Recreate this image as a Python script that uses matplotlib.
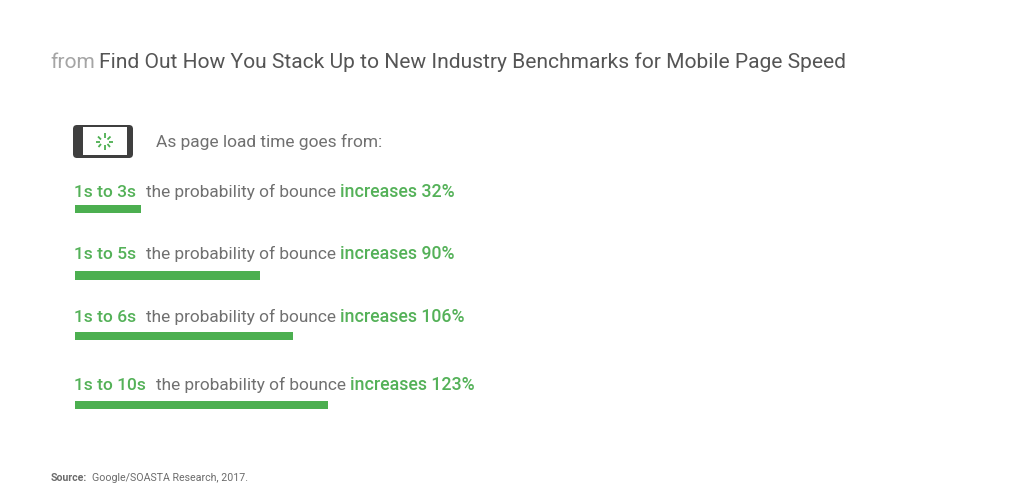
import matplotlib
matplotlib.use("Agg")
import matplotlib.pyplot as plt
from matplotlib.patches import FancyBboxPatch, Rectangle

ranges = ["1s to 3s", "1s to 5s", "1s to 6s", "1s to 10s"]
increases = [32, 90, 106, 123]
middle = "the probability of bounce"
title_prefix = "from"
title_main = "Find Out How You Stack Up to New Industry Benchmarks for Mobile Page Speed"
intro = "As page load time goes from:"

W, H = 1024, 492
GREEN = "#4caf50"
TEXT_GREEN = "#54b158"
GREY = "#707070"
plt.rcParams["font.family"] = ["Roboto", "DejaVu Sans"]

fig = plt.figure(figsize=(W / 100, H / 100), dpi=100, facecolor="white")
bg = fig.add_axes([0, 0, 1, 1])
bg.set_xlim(0, W)
bg.set_ylim(H, 0)
bg.axis("off")

# value axis: zero at x=75 px, 2.057 px per percent point
ax = fig.add_axes([0, 0, 1, 1], facecolor="none")
ax.set_xlim(-75 / 2.057, (W - 75) / 2.057)
ax.set_ylim(H, 0)
ax.axis("off")
bar_centers = [209, 275.5, 336, 405]
bar_heights = [8, 9, 8, 8]
ax.barh(bar_centers, increases, height=bar_heights, color=GREEN, linewidth=0)


def put(x, y, s, size=12.45, color=GREY, weight="normal"):
    return bg.text(x, y, s, fontsize=size, color=color, weight=weight, va="baseline", ha="left")


put(50, 68, title_prefix, size=15.1, color="#a5a5a5")
put(99, 68, title_main, size=15.08, color="#555555")
put(156, 147, intro, size=12.55)

baselines = [197, 259, 322, 390]
mid_x = [146, 146, 146, 156]
inc_x = [340, 340, 340, 350]
for r, v, yb, mx, ix in zip(ranges, increases, baselines, mid_x, inc_x):
    put(74, yb, r, size=12.5, color=TEXT_GREEN, weight="medium")
    put(mx, yb, middle)
    put(ix, yb, f"increases {v}%", size=12.75, color=TEXT_GREEN, weight="medium")

bg.text(51, 481, "Source:", fontsize=7.6, color="#6b6b6b", weight="bold")
bg.text(92, 481, "Google/SOASTA Research, 2017.", fontsize=7.65, color="#6b6b6b")

# phone icon
bg.add_patch(FancyBboxPatch((73, 125), 60, 33, boxstyle="round,pad=0,rounding_size=4",
                            fc="#3f3f3f", ec="none"))
bg.add_patch(Rectangle((83, 127), 44, 28, fc="white", ec="none"))
spokes = [((104.5, 138), (104.5, 133)), ((107.5, 139.5), (110.5, 136.5)), ((109, 141.5), (113, 141.5)),
          ((107.5, 144), (110, 147)), ((104.5, 145), (104.5, 150)), ((101, 144), (98.5, 147)),
          ((100, 141.5), (95.5, 141.5)), ((101, 139.5), (98, 136.5))]
for a, b in spokes:
    bg.plot([a[0], b[0]], [a[1], b[1]], color=GREEN, lw=1.3, solid_capstyle="butt")

fig.savefig("out.png", dpi=100, facecolor="white")
